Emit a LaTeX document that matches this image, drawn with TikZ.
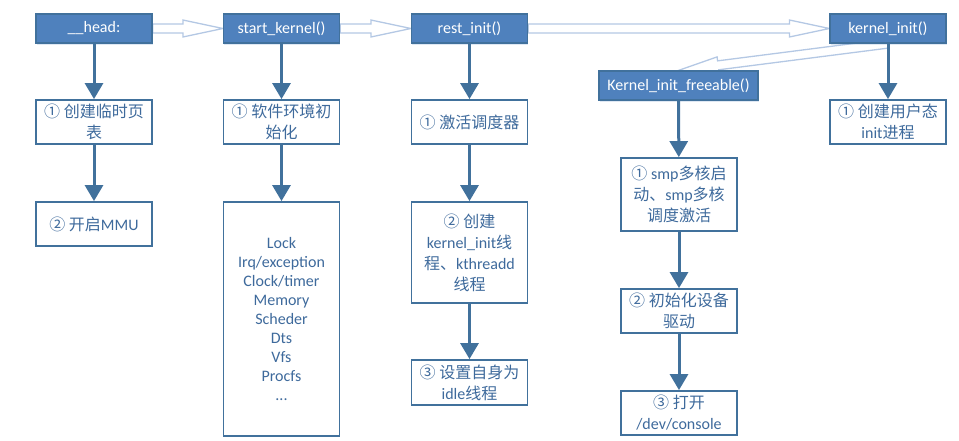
\documentclass[tikz,border=0pt]{standalone}
\usepackage{fontspec}
\setmainfont{Carlito}
\newfontfamily\cjk{Noto Sans CJK SC}
\newcommand{\zh}[1]{{\cjk #1}}
\usetikzlibrary{arrows.meta,calc,shadows}
\definecolor{boxfill}{HTML}{4F81BD}
\definecolor{boxline}{HTML}{41719C}
\definecolor{txtblue}{HTML}{3E6A9C}
\definecolor{hollowline}{HTML}{B4C8E4}
\pgfdeclarelayer{background}
\pgfsetlayers{background,main}
\tikzset{
  topbox/.style={draw=boxline, line width=1.2pt, fill=boxfill, text=white,
    minimum width=116pt, minimum height=29pt, inner sep=0pt,
    font=\fontsize{16}{19}\selectfont,
    drop shadow={shadow xshift=0.5pt, shadow yshift=-2pt, opacity=0.18, fill=boxfill}},
  stepbox/.style={draw=boxline, line width=1.8pt, fill=white, text=txtblue,
    minimum width=116pt, align=center, inner sep=1pt,
    font=\fontsize{16}{21}\selectfont},
  flow/.style={draw=boxline, line width=3pt, -{Triangle[length=16pt,width=18pt]}},
  hollowarr/.style={draw=hollowline, line width=1.3pt, fill=white, line join=miter}
}
\newcommand{\hollowarrow}[2]{%
  \begin{pgfonlayer}{background}
  \coordinate (hac) at ($(#2)!40pt!(#1)$);
  \draw[hollowarr] ($(#1)!4.5pt!90:(#2)$) -- ($(hac)!4.5pt!90:(#2)$) -- ($(hac)!8.5pt!90:(#2)$)
    -- (#2) -- ($(hac)!8.5pt!-90:(#2)$) -- ($(hac)!4.5pt!-90:(#2)$) -- ($(#1)!4.5pt!-90:(#2)$) -- cycle;
  \end{pgfonlayer}}
\begin{document}
\begin{tikzpicture}[x=1pt,y=-1pt]
\useasboundingbox (0,0) rectangle (959,441);
% top row
\node[topbox] (hd) at (94,28.5) {\_\_head:};
\node[topbox] (sk) at (281.5,28.5) {start\_kernel()};
\node[topbox] (ri) at (469.5,28.5) {rest\_init()};
\node[topbox] (ki) at (888,28.5) {kernel\_init()};
\node[topbox, minimum width=159pt] (kf) at (678.5,85.5) {Kernel\_init\_freeable()};
% column 1
\node[stepbox, minimum height=44pt] (c1a) at (94,122) {\zh{① 创建临时页}\\\zh{表}};
\node[stepbox, minimum height=44pt] (c1b) at (94,224) {\zh{② 开启}MMU};
% column 2
\node[stepbox, minimum height=44pt] (c2a) at (281.5,122) {\zh{① 软件环境初}\\\zh{始化}};
\node[stepbox, minimum height=234pt, font=\fontsize{16}{19}\selectfont] (c2b) at (281.5,319)
  {Lock\\Irq/exception\\Clock/timer\\Memory\\Scheder\\Dts\\Vfs\\Procfs\\...};
% column 3
\node[stepbox, minimum height=44pt] (c3a) at (469.5,122) {\zh{① 激活调度器}};
\node[stepbox, minimum height=101pt] (c3b) at (469.5,252.5)
  {\zh{② 创建}\\kernel\_init\zh{线}\\\zh{程、}kthreadd\\\zh{线程}};
\node[stepbox, minimum height=45pt] (c3c) at (469.5,382.5) {\zh{③ 设置自身为}\\idle\zh{线程}};
% column 4
\node[stepbox, minimum height=73pt] (c4a) at (679,194.5)
  {\zh{①} smp\zh{多核启}\\\zh{动、}smp\zh{多核}\\\zh{调度激活}};
\node[stepbox, minimum height=44pt] (c4b) at (679,311) {\zh{② 初始化设备}\\\zh{驱动}};
\node[stepbox, minimum height=44pt] (c4c) at (679,413) {\zh{③ 打开}\\/dev/console};
% column 5
\node[stepbox, minimum height=44pt] (c5a) at (888,122) {\zh{① 创建用户态}\\init\zh{进程}};
% solid flow arrows
\draw[flow] (hd) -- (c1a);
\draw[flow] (c1a) -- (c1b);
\draw[flow] (sk) -- (c2a);
\draw[flow] (c2a) -- (c2b);
\draw[flow] (ri) -- (c3a);
\draw[flow] (c3a) -- (c3b);
\draw[flow] (c3b) -- (c3c);
\draw[flow] (kf) -- (c4a);
\draw[flow] (c4a) -- (c4b);
\draw[flow] (c4b) -- (c4c);
\draw[flow] (ki) -- (c5a);
% hollow arrows
\hollowarrow{hd.east}{sk.west}
\hollowarrow{sk.east}{ri.west}
\hollowarrow{ri.east}{ki.west}
\hollowarrow{ki.south}{kf.north}
\end{tikzpicture}
\end{document}
